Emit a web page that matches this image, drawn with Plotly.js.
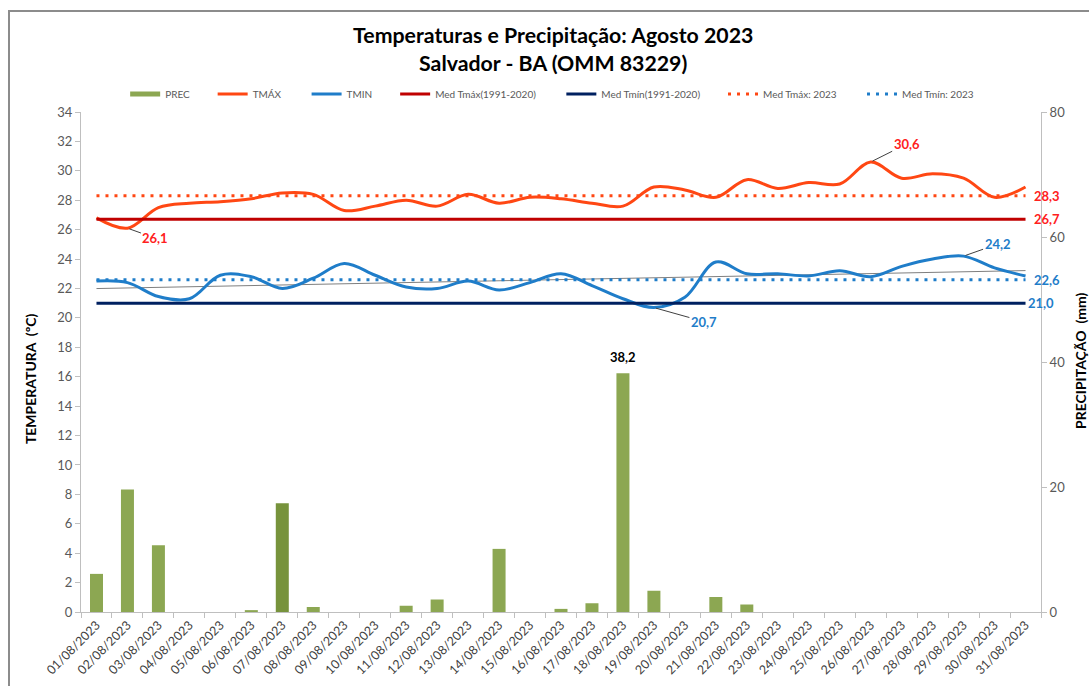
<!DOCTYPE html>
<html>
<head>
<meta charset="utf-8">
<script src="https://cdn.plot.ly/plotly-3.0.1.min.js"></script>
<style>
  html, body { margin: 0; padding: 0; background: #fff; overflow: hidden; }
  #frame { position: absolute; left: 8px; top: 10px; width: 1200px; height: 800px;
           border-left: 2px solid #8c8c8c; border-top: 2px solid #8c8c8c; pointer-events: none; }
  #chart { position: absolute; left: 0; top: 0; width: 1089px; height: 686px; }
</style>
</head>
<body>
<div id="chart"></div>
<div id="frame"></div>
<script>
const dias = ['01/08/2023','02/08/2023','03/08/2023','04/08/2023','05/08/2023','06/08/2023','07/08/2023','08/08/2023',
  '09/08/2023','10/08/2023','11/08/2023','12/08/2023','13/08/2023','14/08/2023','15/08/2023','16/08/2023',
  '17/08/2023','18/08/2023','19/08/2023','20/08/2023','21/08/2023','22/08/2023','23/08/2023','24/08/2023',
  '25/08/2023','26/08/2023','27/08/2023','28/08/2023','29/08/2023','30/08/2023','31/08/2023'];

const prec = [6.1, 19.6, 10.7, 0, 0, 0.3, 17.4, 0.8, 0, 0, 1.0, 2.0, 0, 10.1, 0, 0.5,
  1.4, 38.2, 3.4, 0, 2.4, 1.2, 0, 0, 0, 0, 0, 0, 0, 0, 0];

const tmax = [26.8, 26.1, 27.5, 27.8, 27.9, 28.1, 28.5, 28.4, 27.3, 27.6, 28.0, 27.6, 28.4, 27.8, 28.2, 28.1,
  27.8, 27.6, 28.9, 28.7, 28.2, 29.4, 28.8, 29.2, 29.1, 30.6, 29.5, 29.8, 29.5, 28.2, 28.9];

const tmin = [22.5, 22.4, 21.45, 21.3, 22.9, 22.8, 22.0, 22.7, 23.7, 22.9, 22.1, 22.0, 22.5, 21.9, 22.4, 23.0,
  22.2, 21.3, 20.7, 21.4, 23.8, 23.0, 23.0, 22.85, 23.2, 22.8, 23.5, 24.0, 24.2, 23.4, 22.85];

const medTmax9120 = 26.7;
const medTmin9120 = 21.0;
const medTmax2023 = 28.3;
const medTmin2023 = 22.6;

const legendNames = ['PREC', 'TMÁX', 'TMIN', 'Med Tmáx(1991-2020)', 'Med Tmín(1991-2020)', 'Med Tmáx: 2023', 'Med Tmín: 2023'];

const fmt = v => v.toFixed(1).replace('.', ',');
const flat = v => dias.map(() => v);
const pad = (s, k) => s + '\u00a0'.repeat(k);

// linear trend of TMIN (Excel trendline)
const n = tmin.length;
const xs = tmin.map((_, i) => i + 1);
const mx = xs.reduce((a, b) => a + b, 0) / n;
const my = tmin.reduce((a, b) => a + b, 0) / n;
let sxy = 0, sxx = 0;
for (let i = 0; i < n; i++) { sxy += (xs[i] - mx) * (tmin[i] - my); sxx += (xs[i] - mx) ** 2; }
const slope = sxy / sxx, icpt = my - slope * mx;
const trend = xs.map(x => icpt + slope * x);

const RED = '#FF4713', BLUE = '#1F7DC9', GREEN = '#8CA752';
const barColors = prec.map((_, i) => i === 6 ? '#77933C' : GREEN);

const traces = [
  { type: 'bar', x: dias, y: prec, yaxis: 'y', width: 0.42, marker: { color: barColors, line: { width: 0 } },
    showlegend: false, name: legendNames[0] },
  { type: 'scatter', mode: 'lines', x: [null], y: [null], yaxis: 'y', name: pad(legendNames[0], 7), line: { color: GREEN, width: 5 } },
  { type: 'scatter', mode: 'lines', x: dias, y: trend, yaxis: 'y2', showlegend: false, name: 'trend',
    line: { color: '#7f7f7f', width: 1 } },
  { type: 'scatter', mode: 'lines', x: dias, y: tmax, yaxis: 'y2', name: pad(legendNames[1], 8),
    line: { color: RED, width: 3, shape: 'spline', smoothing: 1 } },
  { type: 'scatter', mode: 'lines', x: dias, y: tmin, yaxis: 'y2', name: pad(legendNames[2], 7),
    line: { color: BLUE, width: 3, shape: 'spline', smoothing: 1 } },
  { type: 'scatter', mode: 'lines', x: dias, y: flat(medTmax9120), yaxis: 'y2', name: pad(legendNames[3], 8),
    line: { color: '#C00000', width: 3 } },
  { type: 'scatter', mode: 'lines', x: dias, y: flat(medTmin9120), yaxis: 'y2', name: pad(legendNames[4], 7),
    line: { color: '#002060', width: 3 } },
  { type: 'scatter', mode: 'lines', x: dias, y: flat(medTmax2023), yaxis: 'y2', name: pad(legendNames[5], 8),
    line: { color: RED, width: 3, dash: '3px,6px' } },
  { type: 'scatter', mode: 'lines', x: dias, y: flat(medTmin2023), yaxis: 'y2', name: legendNames[6],
    line: { color: BLUE, width: 3, dash: '3px,6px' } }
];

const FONT = 'Lato, "Liberation Sans", sans-serif';
const lblFont = (c, s) => ({ family: FONT, size: s || 13, color: c });
const iMax = tmax.indexOf(Math.max(...tmax));
const iMaxLow = tmax.indexOf(Math.min(...tmax));
const iMin = tmin.indexOf(Math.min(...tmin));
const iMinHigh = tmin.indexOf(Math.max(...tmin));
const iPrec = prec.indexOf(Math.max(...prec));
const last = dias[dias.length - 1];

const ptLabel = (x, y, txt, c, ax, ay) => ({
  x: x, y: y, xref: 'x', yref: 'y2', text: '<b>' + txt + '</b>', showarrow: true, arrowhead: 0,
  arrowwidth: 1, arrowcolor: '#404040', ax: ax, ay: ay, font: lblFont(c), standoff: 2
});
const endLabel = (y, txt, c, xs) => ({
  x: last, y: y, xref: 'x', yref: 'y2', text: '<b>' + txt + '</b>', showarrow: false,
  xanchor: 'left', xshift: xs, font: lblFont(c)
});

const annotations = [
  ptLabel(dias[iMaxLow], tmax[iMaxLow], fmt(tmax[iMaxLow]), '#FF2020', 28, 10),
  ptLabel(dias[iMax], tmax[iMax], fmt(tmax[iMax]), '#FF2020', 36, -18),
  ptLabel(dias[iMin], tmin[iMin], fmt(tmin[iMin]), BLUE, 50, 14),
  ptLabel(dias[iMinHigh], tmin[iMinHigh], fmt(tmin[iMinHigh]), BLUE, 34, -12),
  endLabel(medTmax2023, fmt(medTmax2023), '#FF2020', 6),
  endLabel(medTmax9120, fmt(medTmax9120), '#FF2020', 6),
  endLabel(medTmin2023, fmt(medTmin2023), BLUE, 6),
  endLabel(medTmin9120, fmt(medTmin9120), BLUE, 0),
  { x: dias[iPrec], y: prec[iPrec], xref: 'x', yref: 'y', text: '<b>' + fmt(prec[iPrec]) + '</b>',
    showarrow: false, yanchor: 'bottom', yshift: 6, font: lblFont('#000') },
  { x: -0.053, y: 0.466, xref: 'paper', yref: 'paper', xanchor: 'center', yanchor: 'middle',
    text: '<b>TEMPERATURA  (ºC)</b>', textangle: -90, showarrow: false, font: lblFont('#000', 14) },
  { x: 1.0406, y: 0.502, xref: 'paper', yref: 'paper', xanchor: 'center', yanchor: 'middle',
    text: '<b>PRECIPITAÇÃO  (mm)</b>', textangle: -90, showarrow: false, font: lblFont('#000', 14) }
];

const axisCommon = {
  showgrid: false, zeroline: false, showline: true, linecolor: '#BFBFBF', linewidth: 1,
  ticks: 'outside', ticklen: 5, tickcolor: '#BFBFBF',
  tickfont: { family: FONT, size: 13, color: '#595959' }
};

const layout = {
  width: 1089, height: 686,
  margin: { l: 81, r: 48, t: 112, b: 74 },
  paper_bgcolor: 'rgba(0,0,0,0)', plot_bgcolor: 'rgba(0,0,0,0)',
  font: { family: FONT, color: '#404040' },
  title: {
    text: '<b>Temperaturas e Precipitação: Agosto 2023<br>Salvador - BA (OMM 83229)</b>',
    x: 0.508, xref: 'container', xanchor: 'center', y: 1 - 43 / 686, yref: 'container', yanchor: 'top',
    font: { family: FONT, size: 21.3, color: '#000' }
  },
  showlegend: true,
  legend: {
    orientation: 'h', x: 0.046, xanchor: 'left', y: 1.036, yanchor: 'middle',
    font: { size: 10, color: '#595959' }, bgcolor: 'rgba(0,0,0,0)', traceorder: 'normal'
  },
  xaxis: Object.assign({}, axisCommon, {
    type: 'category', tickangle: -45, tickson: 'boundaries', range: [-0.5, 30.5],
    tickfont: { family: FONT, size: 12.5, color: '#404040' }
  }),
  yaxis: Object.assign({}, axisCommon, { side: 'right', range: [0, 80], dtick: 20 }),
  yaxis2: Object.assign({}, axisCommon, { side: 'left', overlaying: 'y', range: [0, 34], dtick: 2 }),
  annotations: annotations
};

Plotly.newPlot('chart', traces, layout, { displayModeBar: false, staticPlot: true });
</script>
</body>
</html>
